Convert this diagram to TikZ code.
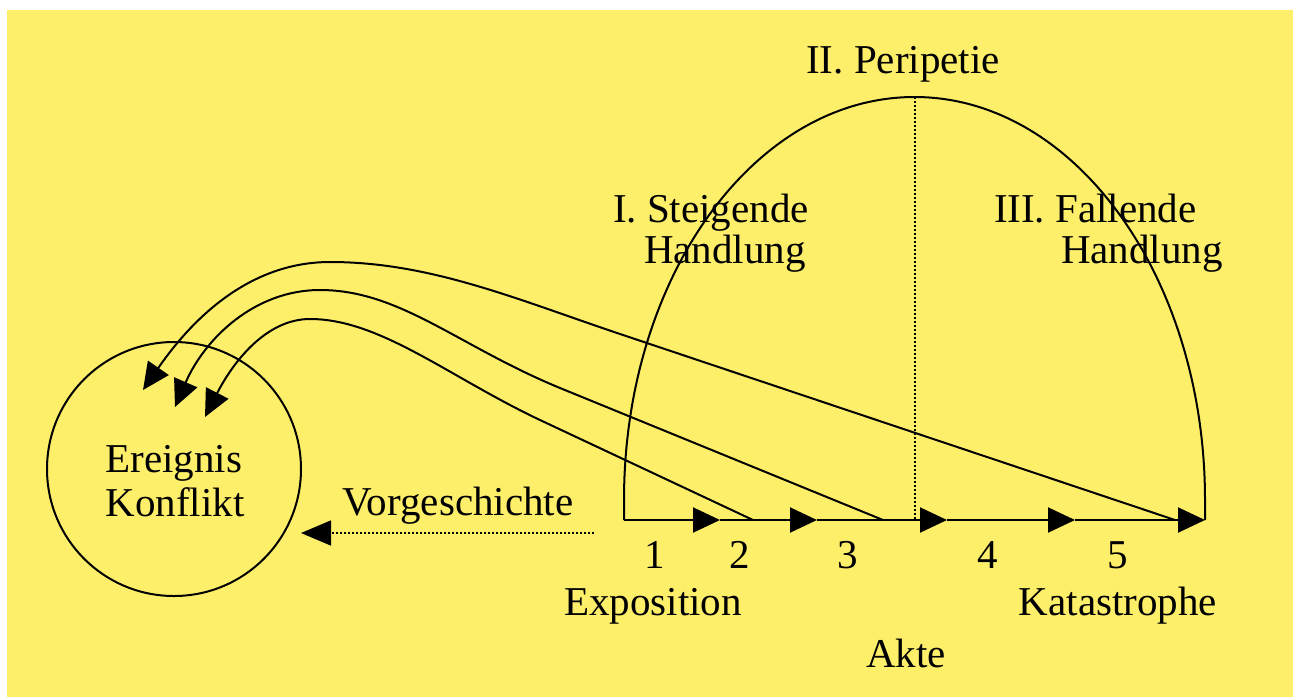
\documentclass[tikz,border=0pt]{standalone}
\usepackage{fontspec}
\setmainfont{Liberation Serif}
\usetikzlibrary{arrows.meta}
\definecolor{bgyellow}{RGB}{254,239,106}
\begin{document}
\begin{tikzpicture}[x=1pt,y=-1pt, line width=2pt,
  lbl/.style={font=\fontsize{41}{41}\selectfont, inner sep=0pt, anchor=base},
  tip/.style={-{Triangle[length=27pt,width=25pt]}},
  dotline/.style={line width=1.6pt, dash pattern=on 1.6pt off 2.4pt}]
\useasboundingbox (0,0) rectangle (1293,697);
\fill[bgyellow] (7,10) rectangle (1293,697);

% circle
\node[circle,draw,line width=2pt,minimum size=254pt,inner sep=0pt] (ev) at (174,469) {};
\node[lbl] (ereignis) at (174,472) {Ereignis};
\node[lbl] (konflikt) at (175,516) {Konflikt};

% baseline with arrows
\coordinate (b0) at (624,520);
\coordinate (b1) at (720,520);
\coordinate (b2) at (817,520);
\coordinate (b3) at (947,520);
\coordinate (b4) at (1075,520);
\coordinate (b5) at (1205,520);
\draw[tip] (b0) -- (b1);
\draw[tip] (b1) -- (b2);
\draw[tip] (b2) -- (b3);
\draw[tip] (b3) -- (b4);
\draw[tip] (b4) -- (b5);

% arch
\draw (b0) -- (624,500) arc[start angle=180,end angle=360,x radius=290.5,y radius=403] -- (b5);
\coordinate (top) at (915,97);
\coordinate (mid) at (915,520);
\draw[dotline] (top) -- (mid);

% Vorgeschichte arrow
\coordinate (vs) at (594,533);
\coordinate (ve) at (301,533);
\draw[dotline, -{Triangle[length=30pt,width=25pt]}] (vs) -- (ve);

% curved arrows
\coordinate (s1) at (1175,520);
\coordinate (s2) at (883,520);
\coordinate (s3) at (753,520);
\coordinate (t1) at (143,390);
\coordinate (t2) at (175,407);
\coordinate (t3) at (205,417);
\draw[tip] (s1) -- (620,334) .. controls (516,299) and (430,262) .. (330,262)
  .. controls (245,262) and (188,325) .. (t1);
\draw[tip] (s2) -- (560,388) .. controls (458,346) and (400,290) .. (320,290)
  .. controls (255,290) and (205,338) .. (t2);
\draw[tip] (s3) -- (540,420) .. controls (449,377) and (380,319) .. (310,319)
  .. controls (265,319) and (232,364) .. (t3);

% labels
\node[lbl] (peri) at (903,73) {II. Peripetie};
\node[lbl, anchor=base west] (steig) at (612,222) {I. Steigende};
\node[lbl, anchor=base west] (hand1) at (643,263) {Handlung};
\node[lbl, anchor=base west] (fall) at (993,222) {III. Fallende};
\node[lbl, anchor=base west] (hand2) at (1060,263) {Handlung};
\node[lbl] (vorg) at (458,515) {Vorgeschichte};
\node[lbl] (n1) at (655,568) {1};
\node[lbl] (n2) at (740,568) {2};
\node[lbl] (n3) at (848,568) {3};
\node[lbl] (n4) at (988,568) {4};
\node[lbl] (n5) at (1118,568) {5};
\node[lbl] (expo) at (653,615) {Exposition};
\node[lbl] (kata) at (1118,615) {Katastrophe};
\node[lbl] (akte) at (906,667) {Akte};
\end{tikzpicture}
\end{document}
